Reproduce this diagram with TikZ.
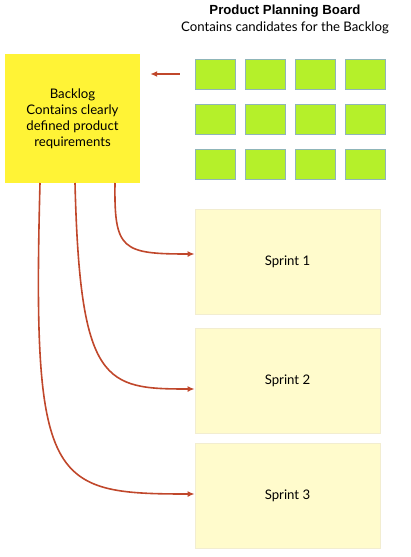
\documentclass[tikz,border=0pt]{standalone}
\usepackage{fontspec}
\setmainfont{Lato}
\newfontfamily\titlefont{Liberation Sans}
\usetikzlibrary{arrows.meta}

\definecolor{backlogyellow}{HTML}{FFF336}
\definecolor{cardgreen}{HTML}{B5F02A}
\definecolor{cardedge}{HTML}{8FB5B8}
\definecolor{sprintfill}{HTML}{FFFBCC}
\definecolor{sprintedge}{HTML}{F2EDD0}
\definecolor{flowred}{HTML}{C0472B}

\tikzset{
  card/.style={draw=cardedge, fill=cardgreen, line width=0.8pt,
    minimum width=40pt, minimum height=30pt, inner sep=0pt},
  sprintbox/.style={draw=sprintedge, fill=sprintfill, line width=0.8pt,
    minimum width=185pt, minimum height=105pt, font=\fontsize{13.2}{15}\selectfont},
  flow/.style={draw=flowred, line width=1.6pt, ->}
}

\begin{document}
\begin{tikzpicture}[x=1pt,y=-1pt,>={Latex[length=7pt,width=6pt]}]
\useasboundingbox (0,0) rectangle (411,557);
% Product planning board
\node[font=\titlefont\bfseries\fontsize{13.2}{15}\selectfont] (boardtitle) at (285,11) {Product Planning Board};
\node[font=\fontsize{13.2}{15}\selectfont] (boardsub) at (285,28) {Contains candidates for the Backlog};
\node[card] (c11) at (215,74) {};  \node[card] (c12) at (265,74) {};
\node[card] (c13) at (315,74) {};  \node[card] (c14) at (365,74) {};
\node[card] (c21) at (215,119) {}; \node[card] (c22) at (265,119) {};
\node[card] (c23) at (315,119) {}; \node[card] (c24) at (365,119) {};
\node[card] (c31) at (215,164) {}; \node[card] (c32) at (265,164) {};
\node[card] (c33) at (315,164) {}; \node[card] (c34) at (365,164) {};
% Backlog
\node[fill=backlogyellow, minimum width=135pt, minimum height=129pt, align=center,
  font=\fontsize{13.2}{16}\selectfont] (backlog) at (72.5,118.5)
  {Backlog\\Contains clearly\\defined product\\requirements};
% Sprints
\node[sprintbox] (sprint1) at (287.5,261.5) {Sprint 1};
\node[sprintbox] (sprint2) at (287.5,381) {Sprint 2};
\node[sprintbox] (sprint3) at (287.5,496) {Sprint 3};
% candidates move into the backlog
\draw[flow, shorten <=15pt, shorten >=10pt] (c11.west) -- (backlog.east |- c11.west);
% backlog feeds the sprints
\coordinate (out1) at (115,183);
\coordinate (out2) at (75,183);
\coordinate (out3) at (40,183);
\draw[flow] (out1) .. controls (114,250) and (122,254) .. ([yshift=7.5pt]sprint1.west);
\draw[flow] (out2) .. controls (80,385) and (105,389) .. ([yshift=-8pt]sprint2.west);
\draw[flow] (out3) .. controls (32,485) and (50,494) .. ([yshift=2pt]sprint3.west);
\end{tikzpicture}
\end{document}
